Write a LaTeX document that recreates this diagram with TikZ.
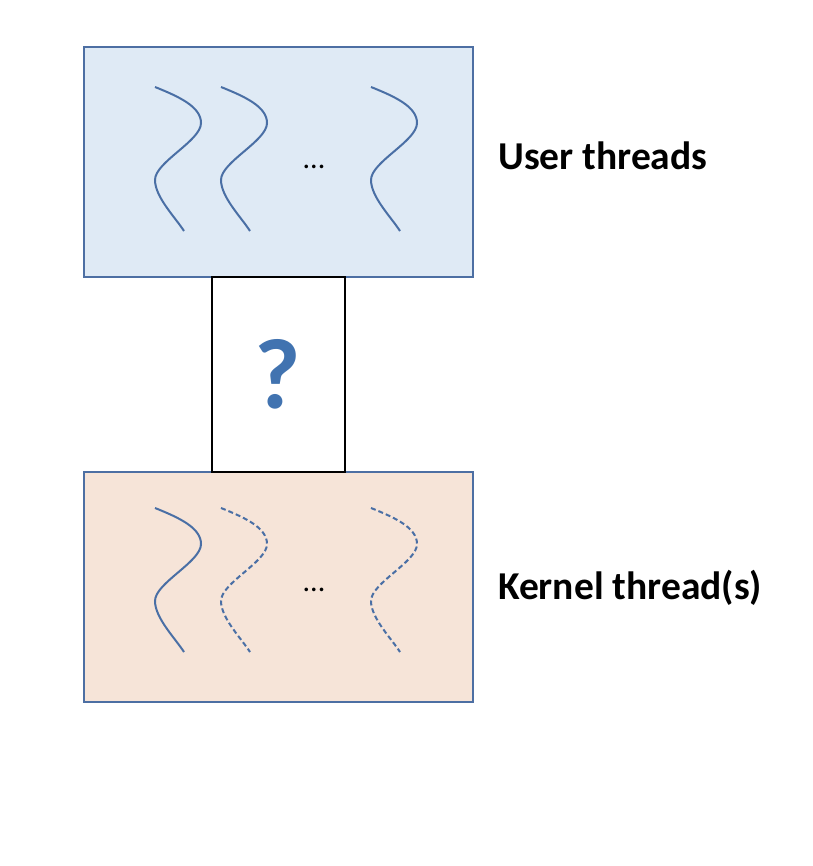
\documentclass[tikz,border=0pt]{standalone}
\usepackage{fontspec}
\setmainfont{Carlito}
\definecolor{userfill}{HTML}{DFEAF5}
\definecolor{kernfill}{HTML}{F6E4D8}
\definecolor{boxline}{HTML}{4D6FA3}
\definecolor{thread}{HTML}{4A6FA5}
\definecolor{qblue}{HTML}{4173B0}
\tikzset{
  layerbox/.style={draw=boxline, line width=1.6pt},
  midbox/.style={draw=black, fill=white, line width=1.6pt},
  threadline/.style={draw=thread, line width=2pt},
  dashthread/.style={draw=thread, line width=2pt, dash pattern=on 5pt off 3pt},
  label/.style={anchor=base west, inner sep=0pt, font=\bfseries\fontsize{39.5}{48}\selectfont},
  dotstyle/.style={anchor=base, inner sep=0pt, font=\fontsize{30}{36}\selectfont}
}
\newcommand{\threadpath}[3]{%
  \draw[#1] (#2,#3) .. controls +(25,10) and +(0,-16) .. ++(46,36)
     .. controls +(0,18) and +(0,-18) .. ++(-46,57)
     .. controls +(0,17) and +(-9,-14) .. ++(29,51);
}
\begin{document}
\begin{tikzpicture}[x=1pt,y=-1pt]
\useasboundingbox (0,0) rectangle (812,866);
% boxes
\node[layerbox, fill=userfill, minimum width=389pt, minimum height=230pt, anchor=north west, inner sep=0pt] (user) at (83,46) {};
\node[layerbox, fill=kernfill, minimum width=389pt, minimum height=230pt, anchor=north west, inner sep=0pt] (kern) at (83,471) {};
\node[midbox, minimum width=133pt, minimum height=195pt, anchor=north west, inner sep=0pt] (mid) at (211,276) {};
\node[inner sep=0pt, text=qblue, font=\bfseries\fontsize{100}{110}\selectfont] (q) at (278,374) {?};
% user threads
\threadpath{threadline}{155}{87}
\threadpath{threadline}{221}{87}
\threadpath{threadline}{371}{87}
\node[dotstyle] (udots) at (314,169) {...};
% kernel threads
\threadpath{threadline}{155}{508}
\threadpath{dashthread}{221}{508}
\threadpath{dashthread}{371}{508}
\node[dotstyle] (kdots) at (314,591) {...};
% labels
\node[label] (ulabel) at (498,169.5) {User threads};
\node[label] (klabel) at (498,599) {Kernel thread(s)};
\end{tikzpicture}
\end{document}
